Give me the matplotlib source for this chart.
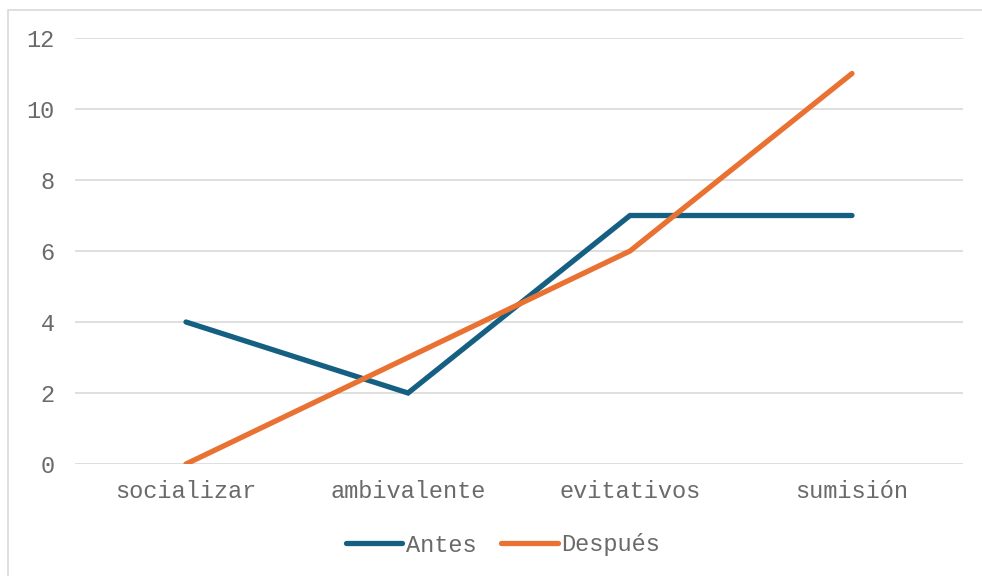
import matplotlib
matplotlib.use('Agg')
import matplotlib.pyplot as plt
from matplotlib.patches import Rectangle

categorias = ['socializar', 'ambivalente', 'evitativos', 'sumisión']
antes = [4, 2, 7, 7]
despues = [0, 3, 6, 11]
yticks = [0, 2, 4, 6, 8, 10, 12]

plt.rcParams['font.family'] = ['Liberation Mono', 'DejaVu Sans Mono']

fig = plt.figure(figsize=(9.82, 5.76), dpi=100)
ax = fig.add_axes([75 / 982, (576 - 464) / 576, 888 / 982, 426 / 576])

x = range(len(categorias))
ax.plot(x, antes, color='#156082', lw=3.8, solid_capstyle='round',
        solid_joinstyle='miter', label='Antes', zorder=3)
ax.plot(x, despues, color='#E97132', lw=3.8, solid_capstyle='round',
        solid_joinstyle='miter', label='Después', zorder=3)

ax.set_xlim(-0.5, len(categorias) - 0.5)
ax.set_ylim(0, 12)
ax.set_yticks(yticks)
ax.set_xticks(list(x))
ax.set_xticklabels(categorias)
ax.grid(axis='y', color='#D9D9D9', lw=1.2)
ax.set_axisbelow(True)
for s in ax.spines.values():
    s.set_visible(False)
ax.tick_params(length=0, labelsize=17, colors='#6A6A6A', pad=11.5)
ax.tick_params(axis='y', pad=14.5)

# legend centred under the plot, a bit right of the figure centre
fig.legend(loc='center', bbox_to_anchor=(503 / 982, 1 - 545 / 576),
           ncol=2, frameon=False, fontsize=17, handlelength=2.4,
           handletextpad=0.15, columnspacing=1.05, labelcolor='#6A6A6A')

# light border of the chart area
fig.patches.append(Rectangle((8 / 982, -0.1), 1.1, (576 - 10) / 576 + 0.1,
                             transform=fig.transFigure, fill=False,
                             edgecolor='#D9D9D9', lw=1.2, clip_on=False))

fig.savefig('out.png', dpi=100)
